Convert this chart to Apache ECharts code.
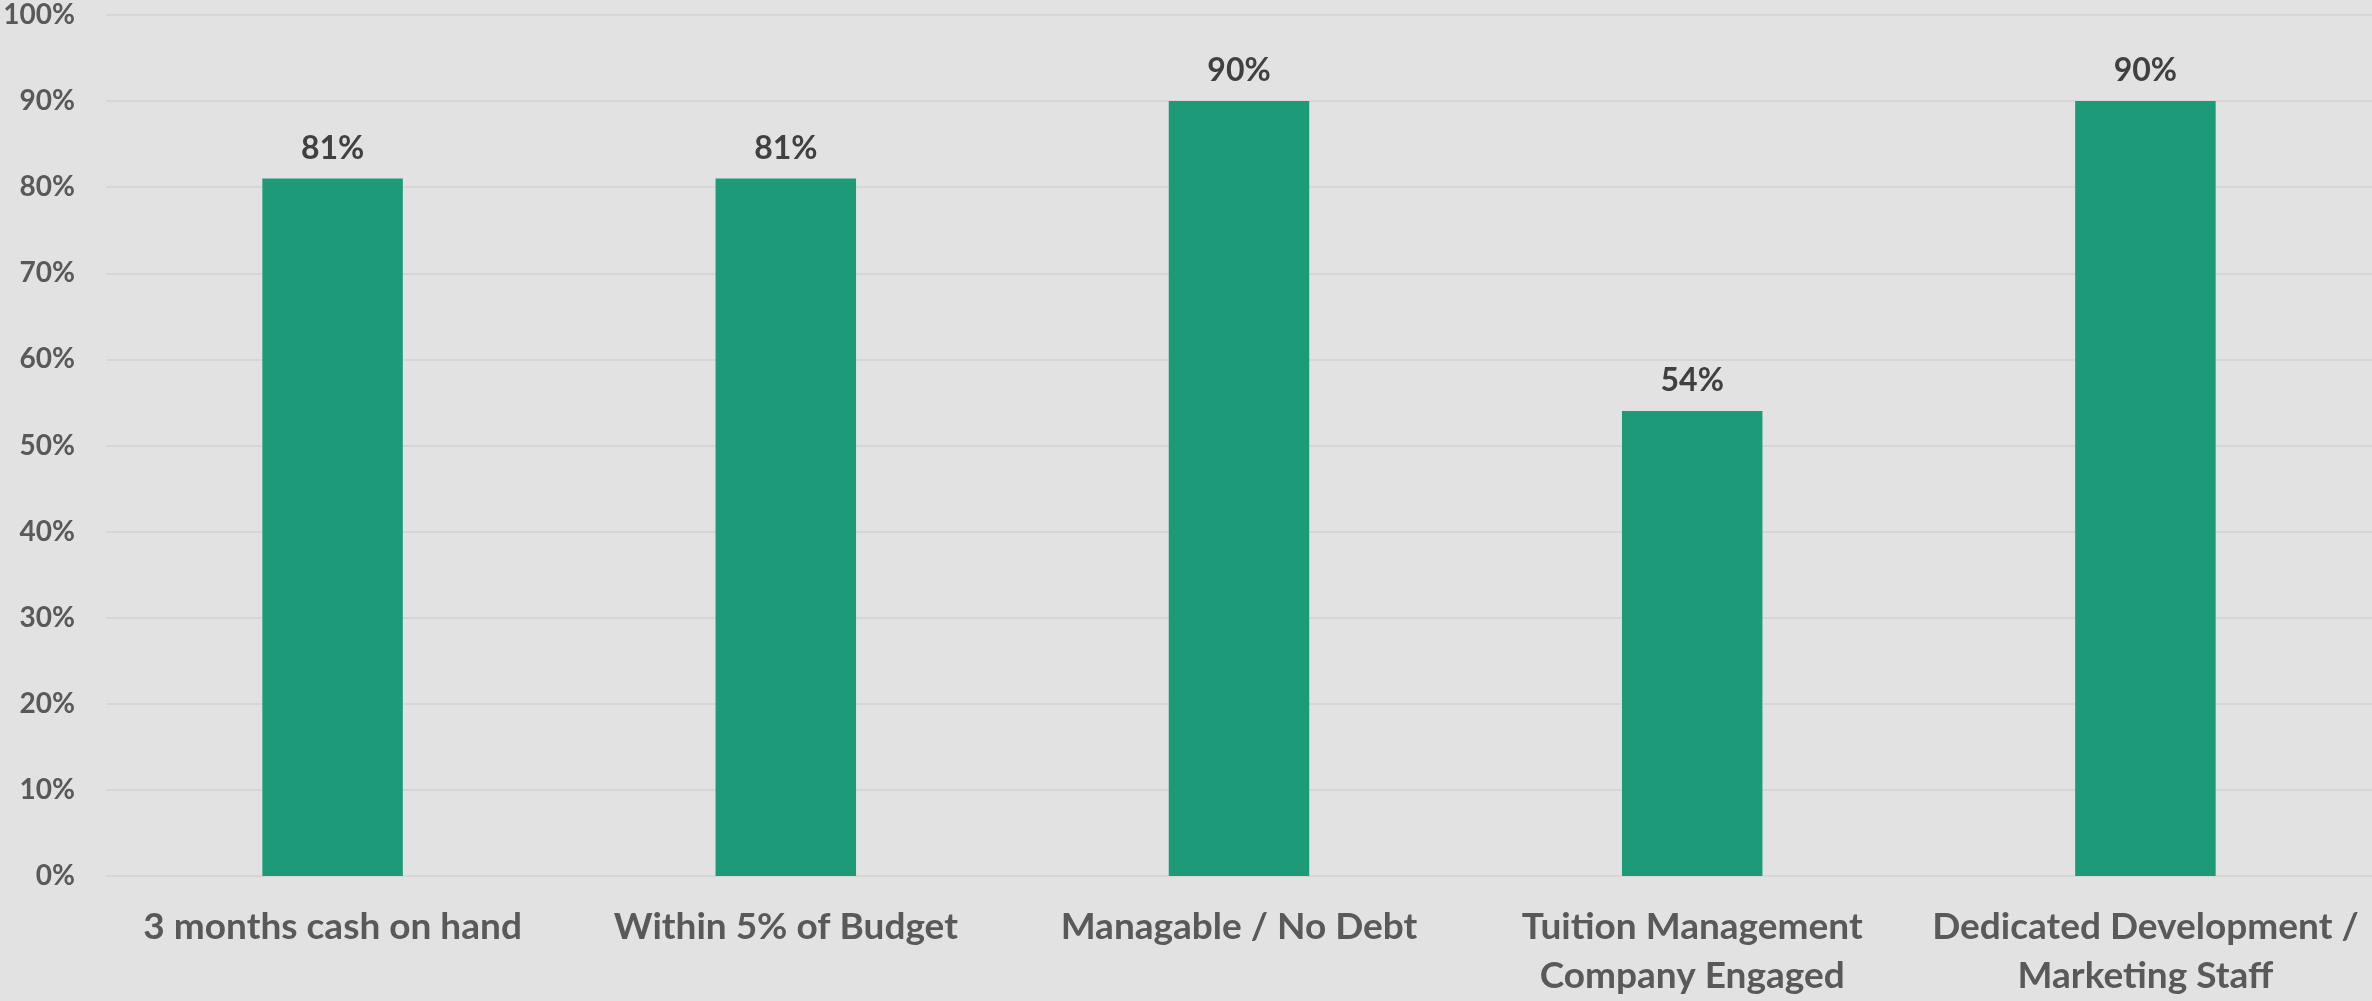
<!DOCTYPE html>
<html>
<head>
<meta charset="utf-8">
<style>
  html, body { margin: 0; padding: 0; background: #e2e2e2; }
  #chart { width: 2372px; height: 1001px; }
</style>
<script src="https://cdn.jsdelivr.net/npm/echarts@6/dist/echarts.min.js"></script>
</head>
<body>
<div id="chart"></div>
<script>
const categories = [
  '3 months cash on hand',
  'Within 5% of Budget',
  'Managable / No Debt',
  'Tuition Management\nCompany Engaged',
  'Dedicated Development /\nMarketing Staff'
];
const values = [81, 81, 90, 54, 90];
const yTicks = { min: 0, max: 100, interval: 10 };

const chart = echarts.init(document.getElementById('chart'));
chart.setOption({
  backgroundColor: '#e2e2e2',
  animation: false,
  grid: { left: 106, right: 0, top: 15, bottom: 122, containLabel: false },
  xAxis: {
    type: 'category',
    data: categories,
    axisLine: { show: true, lineStyle: { color: '#d6d6d6', width: 2 } },
    axisTick: { show: false },
    axisLabel: {
      interval: 0,
      color: '#595959',
      fontFamily: 'Lato',
      fontWeight: 'bold',
      fontSize: 37,
      lineHeight: 49,
      margin: 27
    }
  },
  yAxis: {
    type: 'value',
    min: yTicks.min,
    max: yTicks.max,
    interval: yTicks.interval,
    axisLine: { show: false },
    axisTick: { show: false },
    splitLine: { lineStyle: { color: '#d6d6d6', width: 2 } },
    axisLabel: {
      formatter: '{value}%',
      color: '#595959',
      fontFamily: 'Lato',
      fontWeight: 'bold',
      fontSize: 28,
      margin: 31
    }
  },
  series: [{
    type: 'bar',
    data: values,
    barWidth: '31%',
    itemStyle: { color: '#1d9b79' },
    label: {
      show: true,
      position: 'top',
      distance: 14,
      formatter: '{c}%',
      color: '#404040',
      fontFamily: 'Lato',
      fontWeight: 'bold',
      fontSize: 32
    }
  }]
});
</script>
</body>
</html>
